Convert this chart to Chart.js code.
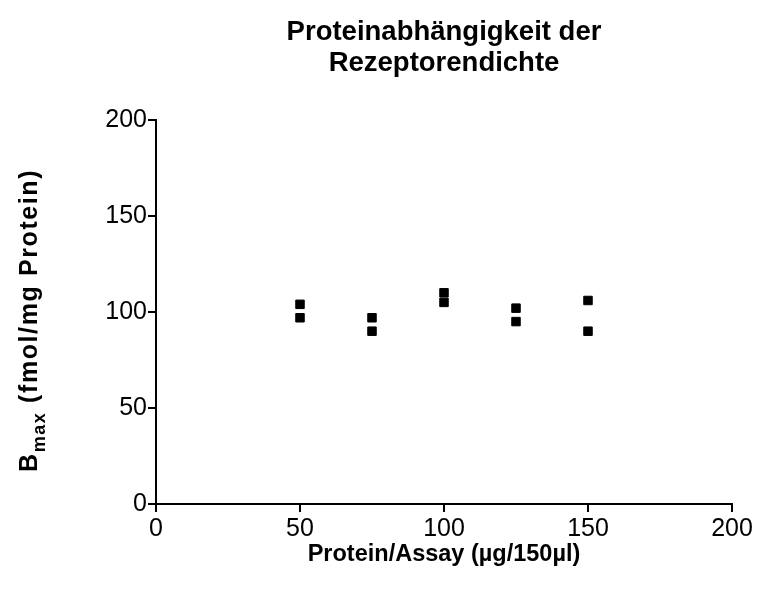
<!DOCTYPE html>
<html>
<head>
<meta charset="utf-8">
<script src="https://cdn.jsdelivr.net/npm/chart.js@4"></script>
<style>
  html, body { margin: 0; padding: 0; background: #fff; }
  #wrap { width: 763px; height: 594px; }
</style>
</head>
<body>
<div id="wrap"><canvas id="chart" width="763" height="594"></canvas></div>
<script>
// Werte
const proteinAmounts = [50, 50, 75, 75, 100, 100, 125, 125, 150, 150];
const bmaxValues = [104, 97, 97, 90, 110, 105, 102, 95, 106, 90];
const xTicks = [0, 50, 100, 150, 200];
const yTicks = [0, 50, 100, 150, 200];

const titleLines = ['Proteinabhängigkeit der', 'Rezeptorendichte'];
const xTitle = 'Protein/Assay (µg/150µl)';

const FONT = '"Liberation Sans", Arial, Helvetica, sans-serif';

// Titel und Achsenbeschriftungen selbst zeichnen (Subskript bei B_max)
const labelsPlugin = {
    id: 'labels',
    afterDraw(chart) {
        const ctx = chart.ctx;
        const area = chart.chartArea;
        const cx = (area.left + area.right) / 2;
        ctx.save();
        ctx.fillStyle = '#000';
        ctx.textAlign = 'center';
        ctx.textBaseline = 'middle';

        ctx.font = 'bold 27.5px ' + FONT;
        ctx.fillText(titleLines[0], cx, 32);
        ctx.fillText(titleLines[1], cx, 63);

        ctx.font = 'bold 23.5px ' + FONT;
        ctx.fillText(xTitle, cx, 555);

        // y-Titel: B + "max" tiefgestellt + Rest, von unten nach oben
        ctx.letterSpacing = '1.6px';
        ctx.rotate(-Math.PI / 2);
        ctx.textAlign = 'left';
        ctx.textBaseline = 'alphabetic';
        let x = -472;
        ctx.font = 'bold 25px ' + FONT;
        ctx.fillText('B', x, 37);
        x += ctx.measureText('B').width;
        ctx.font = 'bold 18px ' + FONT;
        ctx.fillText('max', x, 45);
        x += ctx.measureText('max').width;
        ctx.font = 'bold 25px ' + FONT;
        ctx.fillText(' (fmol/mg Protein)', x, 37);
        ctx.restore();
    }
};

new Chart(document.getElementById('chart').getContext('2d'), {
    type: 'scatter',
    data: {
        datasets: [{
            data: proteinAmounts.map((p, i) => ({ x: p, y: bmaxValues[i] })),
            pointStyle: 'rect',
            pointRadius: 6,
            pointBorderWidth: 1,
            backgroundColor: '#000',
            borderColor: '#000'
        }]
    },
    options: {
        responsive: false,
        animation: false,
        layout: { padding: { top: 120, right: 31, bottom: 0, left: 0 } },
        plugins: {
            legend: { display: false },
            tooltip: { enabled: false },
            title: { display: false }
        },
        scales: {
            x: {
                type: 'linear',
                min: 0,
                max: 200,
                afterFit: s => { s.height = 90; },
                afterBuildTicks: s => { s.ticks = xTicks.map(v => ({ value: v })); },
                grid: { drawOnChartArea: false, color: '#000', lineWidth: 2, tickLength: 8 },
                border: { color: '#000', width: 2 },
                ticks: { color: '#000', font: { family: FONT, size: 25 }, padding: 2, maxRotation: 0 }
            },
            y: {
                type: 'linear',
                min: 0,
                max: 200,
                afterFit: s => { s.width = 156; },
                afterBuildTicks: s => { s.ticks = yTicks.map(v => ({ value: v })); },
                grid: { drawOnChartArea: false, color: '#000', lineWidth: 2, tickLength: 8 },
                border: { color: '#000', width: 2 },
                ticks: { color: '#000', font: { family: FONT, size: 25 }, padding: 1 }
            }
        }
    },
    plugins: [labelsPlugin]
});
</script>
</body>
</html>
